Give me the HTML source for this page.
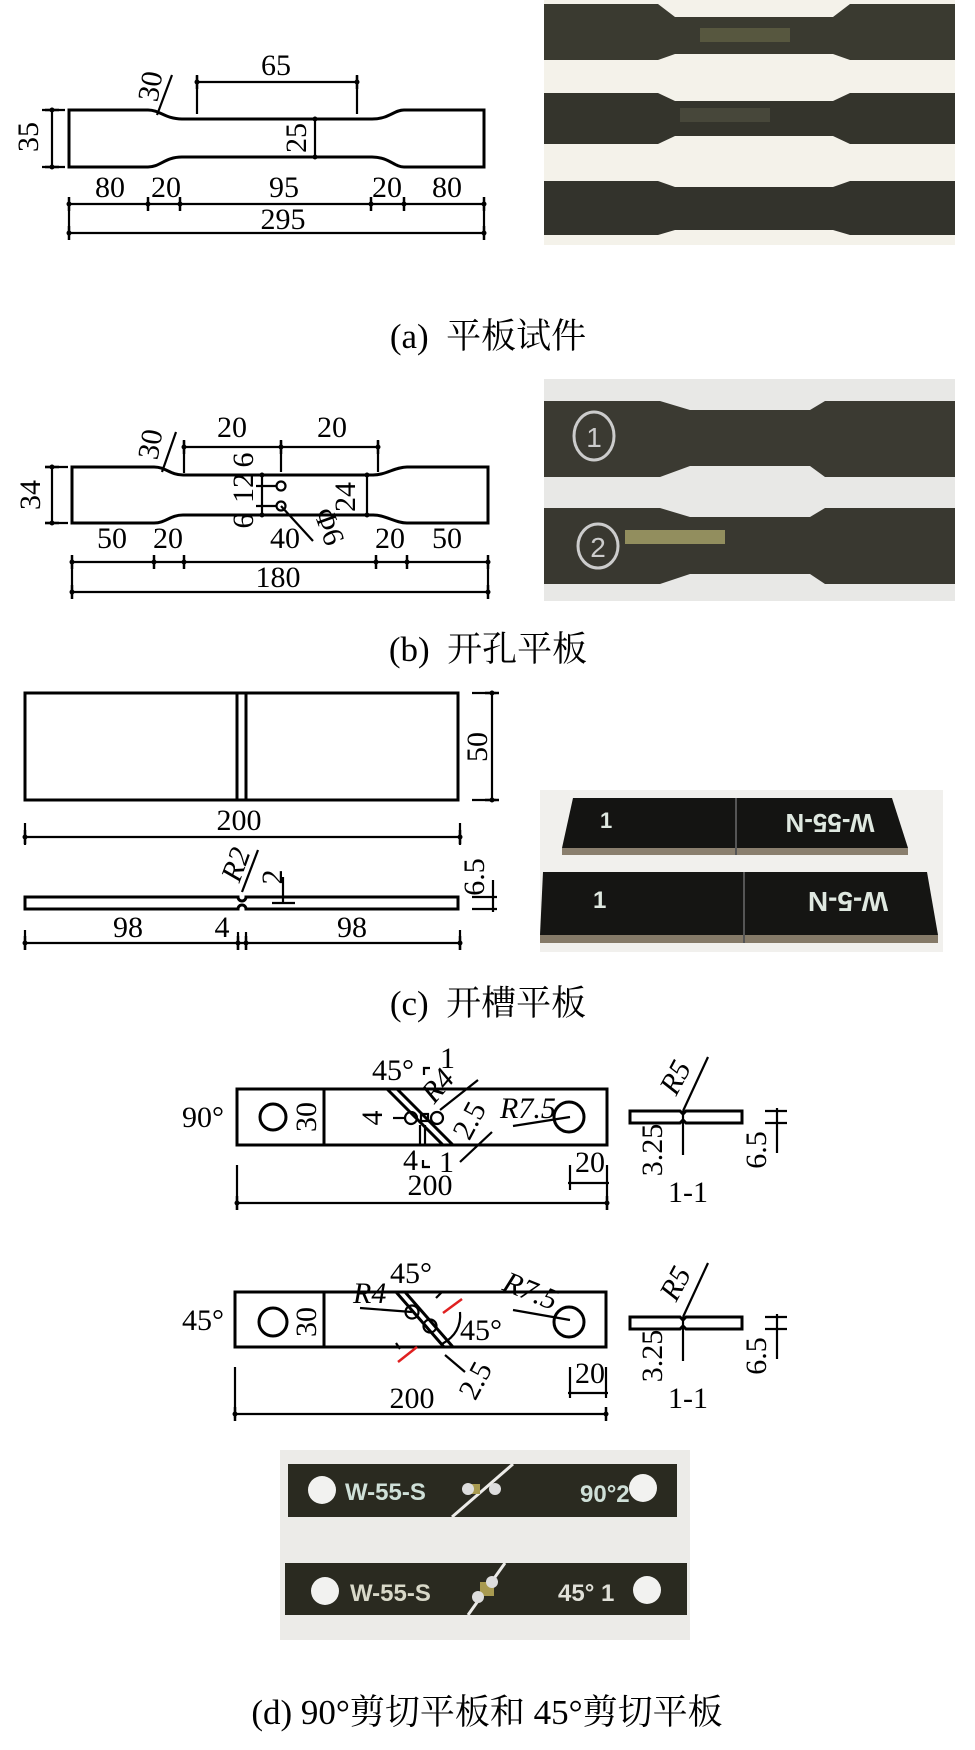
<!DOCTYPE html>
<html><head><meta charset="utf-8"><style>
html,body{margin:0;padding:0;background:#fff;}
svg{display:block;}
.t{font-family:"Liberation Serif",serif;font-size:30px;fill:#000;}
.i{font-style:italic;}
.c{font-family:"Liberation Serif","Noto Serif CJK SC","Noto Sans CJK SC",serif;font-size:35px;fill:#000;}
.o{fill:none;stroke:#000;stroke-width:3;}
.d{fill:none;stroke:#000;stroke-width:2.2;}
.w{font-family:"Liberation Sans",sans-serif;font-weight:bold;fill:#dfe8e0;}
</style></head><body>
<svg width="975" height="1750" viewBox="0 0 975 1750" xmlns="http://www.w3.org/2000/svg">
<defs>
<g id="tk"><line x1="0" y1="-7" x2="0" y2="7" stroke="#000" stroke-width="2.5"/><circle r="2.5" fill="#000"/></g>
<g id="th"><line x1="-7" y1="0" x2="7" y2="0" stroke="#000" stroke-width="2.5"/><circle r="2.5" fill="#000"/></g>
</defs>

<!-- ===== (a) drawing ===== -->
<path class="o" d="M69,110 H148 C160,110 165,119 182,119 H372 C389,119 394,110 404,110 H484 V167 H404 C394,167 389,157 372,157 H182 C165,157 160,167 148,167 H69 Z"/>
<line class="d" x1="52" y1="110" x2="52" y2="167"/><line class="d" x1="42" y1="110" x2="65" y2="110"/><line class="d" x1="42" y1="167" x2="65" y2="167"/>
<use href="#th" x="52" y="110"/><use href="#th" x="52" y="167"/>
<text class="t" transform="translate(38,137) rotate(-90)" text-anchor="middle">35</text>
<line class="d" x1="197" y1="82" x2="357" y2="82"/><line class="d" x1="197" y1="76" x2="197" y2="114"/><line class="d" x1="357" y1="76" x2="357" y2="114"/>
<use href="#tk" x="197" y="82"/><use href="#tk" x="357" y="82"/>
<text class="t" x="276" y="75" text-anchor="middle">65</text>
<line class="d" x1="172" y1="75" x2="157" y2="115"/>
<text class="t" transform="translate(160,88) rotate(-80)" text-anchor="middle">30</text>
<line class="d" x1="315" y1="119" x2="315" y2="157"/><use href="#th" x="315" y="119"/><use href="#th" x="315" y="157"/>
<text class="t" transform="translate(306,138) rotate(-90)" text-anchor="middle">25</text>
<text class="t" x="110" y="197" text-anchor="middle">80</text>
<text class="t" x="166" y="197" text-anchor="middle">20</text>
<text class="t" x="284" y="197" text-anchor="middle">95</text>
<text class="t" x="387" y="197" text-anchor="middle">20</text>
<text class="t" x="447" y="197" text-anchor="middle">80</text>
<line class="d" x1="69" y1="204" x2="484" y2="204"/>
<use href="#tk" x="69" y="204"/><use href="#tk" x="148" y="204"/><use href="#tk" x="180" y="204"/><use href="#tk" x="371" y="204"/><use href="#tk" x="404" y="204"/><use href="#tk" x="484" y="204"/>
<line class="d" x1="69" y1="204" x2="69" y2="236"/><line class="d" x1="484" y1="204" x2="484" y2="236"/>
<text class="t" x="283" y="229" text-anchor="middle">295</text>
<line class="d" x1="69" y1="233" x2="484" y2="233"/><use href="#tk" x="69" y="233"/><use href="#tk" x="484" y="233"/>

<!-- ===== (a) photo ===== -->
<rect x="544" y="0" width="411" height="245" fill="#f4f2ea"/>
<path fill="#3a3a30" d="M544,4 H658 L675,17 H833 L850,4 H955 V60 H850 L833,54 H675 L658,60 H544 Z"/>
<path fill="#34342c" d="M544,93 H658 L675,101 H833 L850,93 H955 V144 H850 L833,136 H675 L658,144 H544 Z"/>
<path fill="#33332c" d="M544,181 H658 L675,187 H833 L850,181 H955 V235 H850 L833,230 H675 L658,235 H544 Z"/>
<rect x="700" y="28" width="90" height="14" fill="#6b6a4a" opacity="0.6"/>
<rect x="680" y="108" width="90" height="14" fill="#555545" opacity="0.6"/>

<text class="c" x="488" y="348" text-anchor="middle">(a)&#160; 平板试件</text>

<!-- ===== (b) drawing ===== -->
<path class="o" d="M72,467 H154 C166,467 170,475 183,475 H373 C386,475 395,467 407,467 H488 V523 H407 C395,523 386,515 373,515 H183 C170,515 166,523 154,523 H72 Z"/>
<line class="d" x1="52" y1="467" x2="52" y2="523"/><line class="d" x1="45" y1="467" x2="68" y2="467"/><line class="d" x1="45" y1="523" x2="68" y2="523"/>
<use href="#th" x="52" y="467"/><use href="#th" x="52" y="523"/>
<text class="t" transform="translate(40,495) rotate(-90)" text-anchor="middle">34</text>
<line class="d" x1="184" y1="447" x2="378" y2="447"/>
<line class="d" x1="184" y1="441" x2="184" y2="473"/><line class="d" x1="281" y1="441" x2="281" y2="472"/><line class="d" x1="378" y1="441" x2="378" y2="472"/>
<use href="#tk" x="184" y="447"/><use href="#tk" x="281" y="447"/><use href="#tk" x="378" y="447"/>
<text class="t" x="232" y="437" text-anchor="middle">20</text>
<text class="t" x="332" y="437" text-anchor="middle">20</text>
<line class="d" x1="176" y1="432" x2="162" y2="472"/>
<text class="t" transform="translate(160,446) rotate(-80)" text-anchor="middle">30</text>
<line class="d" x1="262" y1="475" x2="262" y2="515"/>
<line class="d" x1="256" y1="486" x2="277" y2="486"/><line class="d" x1="256" y1="506" x2="277" y2="506"/>
<use href="#th" x="262" y="475"/><use href="#th" x="262" y="515"/>
<circle cx="281" cy="486" r="4.5" class="d" stroke-width="2.5"/><circle cx="281" cy="506" r="4.5" class="d" stroke-width="2.5"/>
<text class="t" transform="translate(253,460) rotate(-90)" text-anchor="middle">6</text>
<text class="t" transform="translate(253,488) rotate(-90)" text-anchor="middle">12</text>
<text class="t" transform="translate(253,521) rotate(-90)" text-anchor="middle">6</text>
<line class="d" x1="367" y1="475" x2="367" y2="515"/><use href="#th" x="367" y="475"/><use href="#th" x="367" y="515"/>
<text class="t" transform="translate(355,497) rotate(-90)" text-anchor="middle">24</text>
<line class="d" x1="281" y1="506" x2="313" y2="541"/>
<text class="t" transform="translate(320,530) rotate(70)" text-anchor="middle">Φ6</text>
<text class="t" x="285" y="548" text-anchor="middle">40</text>
<text class="t" x="112" y="548" text-anchor="middle">50</text>
<text class="t" x="168" y="548" text-anchor="middle">20</text>
<text class="t" x="390" y="548" text-anchor="middle">20</text>
<text class="t" x="447" y="548" text-anchor="middle">50</text>
<line class="d" x1="72" y1="562" x2="488" y2="562"/>
<use href="#tk" x="72" y="562"/><use href="#tk" x="154" y="562"/><use href="#tk" x="184" y="562"/><use href="#tk" x="376" y="562"/><use href="#tk" x="407" y="562"/><use href="#tk" x="488" y="562"/>
<line class="d" x1="72" y1="562" x2="72" y2="595"/><line class="d" x1="488" y1="562" x2="488" y2="595"/>
<text class="t" x="278" y="587" text-anchor="middle">180</text>
<line class="d" x1="72" y1="592" x2="488" y2="592"/><use href="#tk" x="72" y="592"/><use href="#tk" x="488" y="592"/>

<!-- ===== (b) photo ===== -->
<rect x="544" y="379" width="411" height="222" fill="#e8e8e6"/>
<path fill="#3b3a32" d="M544,401 H660 L690,410 H810 L825,401 H955 V477 H825 L810,466 H690 L660,477 H544 Z"/>
<path fill="#393830" d="M544,508 H660 L690,517 H810 L825,508 H955 V584 H825 L810,574 H690 L660,584 H544 Z"/>
<ellipse cx="594" cy="436" rx="20" ry="24" fill="none" stroke="#ccc" stroke-width="3"/>
<text x="594" y="447" text-anchor="middle" style="font-family:'Liberation Sans';font-size:28px;fill:#ccc">1</text>
<ellipse cx="598" cy="546" rx="20" ry="22" fill="none" stroke="#ccc" stroke-width="3"/>
<text x="598" y="557" text-anchor="middle" style="font-family:'Liberation Sans';font-size:28px;fill:#ccc">2</text>
<rect x="625" y="530" width="100" height="14" fill="#a9a46a" opacity="0.8"/>

<text class="c" x="488" y="661" text-anchor="middle">(b)&#160; 开孔平板</text>

<!-- ===== (c) drawing ===== -->
<rect class="o" x="25" y="693" width="433" height="107"/>
<line class="o" x1="237" y1="693" x2="237" y2="800"/><line class="o" x1="246" y1="693" x2="246" y2="800"/>
<line class="d" x1="492" y1="693" x2="492" y2="800"/>
<line class="d" x1="472" y1="693" x2="496" y2="693"/><line class="d" x1="472" y1="800" x2="496" y2="800"/>
<use href="#th" x="492" y="693"/><use href="#th" x="492" y="800"/>
<text class="t" transform="translate(487,747) rotate(-90)" text-anchor="middle">50</text>
<line class="d" x1="25" y1="837" x2="460" y2="837"/><line class="d" x1="25" y1="823" x2="25" y2="845"/><line class="d" x1="460" y1="823" x2="460" y2="845"/>
<use href="#tk" x="25" y="837"/><use href="#tk" x="460" y="837"/>
<text class="t" x="239" y="830" text-anchor="middle">200</text>
<path class="o" d="M25,897 H238 A4,4 0 0 0 246,897 H458 V909 H246 A4,4 0 0 0 238,909 H25 Z"/>
<line class="d" x1="258" y1="850" x2="242" y2="892"/>
<text class="t i" transform="translate(245,868) rotate(-70)" text-anchor="middle">R2</text>
<text class="t" transform="translate(282,877) rotate(-90)" text-anchor="middle">2</text>
<line class="d" x1="283" y1="877" x2="283" y2="903"/>
<line class="d" x1="272" y1="897" x2="295" y2="897"/><line class="d" x1="272" y1="903" x2="295" y2="903"/>
<line class="d" x1="493" y1="880" x2="493" y2="912"/>
<line class="d" x1="472" y1="897" x2="497" y2="897"/><line class="d" x1="472" y1="909" x2="497" y2="909"/>
<text class="t" transform="translate(484,877) rotate(-90)" text-anchor="middle">6.5</text>
<text class="t" x="128" y="937" text-anchor="middle">98</text>
<text class="t" x="222" y="937" text-anchor="middle">4</text>
<text class="t" x="352" y="937" text-anchor="middle">98</text>
<line class="d" x1="25" y1="943" x2="460" y2="943"/>
<line class="d" x1="25" y1="930" x2="25" y2="950"/><line class="d" x1="460" y1="930" x2="460" y2="950"/><line class="d" x1="238" y1="932" x2="238" y2="950"/><line class="d" x1="246" y1="932" x2="246" y2="950"/>
<use href="#tk" x="25" y="943"/><use href="#tk" x="238" y="943"/><use href="#tk" x="246" y="943"/><use href="#tk" x="460" y="943"/>

<!-- ===== (c) photo ===== -->
<rect x="540" y="790" width="403" height="162" fill="#f1f0ed"/>
<path fill="#141412" d="M573,798 H892 L908,848 H562 Z"/>
<rect x="562" y="848" width="346" height="7" fill="#8a7f6e"/>
<line x1="736" y1="798" x2="736" y2="855" stroke="#555" stroke-width="2"/>
<path fill="#151513" d="M543,872 H927 L938,935 H540 Z"/>
<rect x="540" y="935" width="398" height="8" fill="#857a68"/>
<line x1="744" y1="872" x2="744" y2="943" stroke="#555" stroke-width="2"/>
<text class="w" x="600" y="828" style="font-size:22px">1</text>
<text class="w" x="830" y="832" text-anchor="middle" style="font-size:26px" transform="rotate(180 830 823)">W-55-N</text>
<text class="w" x="593" y="908" style="font-size:24px">1</text>
<text class="w" x="848" y="912" text-anchor="middle" style="font-size:28px" transform="rotate(180 848 902)">W-5-N</text>

<text class="c" x="488" y="1015" text-anchor="middle">(c)&#160; 开槽平板</text>

<!-- ===== (d) 90° ===== -->
<rect class="o" x="237" y="1089" width="370" height="56"/>
<line class="o" x1="324" y1="1089" x2="324" y2="1145"/>
<circle cx="273" cy="1117" r="13" class="o"/>
<circle cx="569" cy="1117" r="15" class="o"/>
<text class="t" transform="translate(316,1117) rotate(-90)" text-anchor="middle">30</text>
<text class="t" x="182" y="1127">90°</text>
<line class="o" x1="387" y1="1089" x2="443" y2="1145"/>
<line class="o" x1="397" y1="1089" x2="453" y2="1145"/>
<circle cx="411" cy="1118" r="6" class="d" fill="#fff"/>
<circle cx="437" cy="1118" r="6" class="d" fill="#fff"/>
<rect x="421" y="1114" width="7" height="7" class="d"/>
<line class="d" x1="393" y1="1118" x2="405" y2="1118"/>
<line class="d" x1="420" y1="1125" x2="420" y2="1145"/><line class="d" x1="425" y1="1125" x2="425" y2="1145"/>
<line class="d" x1="478" y1="1080" x2="440" y2="1110"/>
<text class="t i" transform="translate(445,1092) rotate(-50)" text-anchor="middle">R4</text>
<text class="t" x="372" y="1080">45°</text>
<path class="d" d="M424,1075 V1068 H430"/>
<text class="t" x="440" y="1068">1</text>
<text class="t" transform="translate(382,1118) rotate(-90)" text-anchor="middle">4</text>
<text class="t" x="403" y="1170">4</text>
<path class="d" d="M423,1160 V1167 H430"/>
<text class="t" x="439" y="1172">1</text>
<line class="d" x1="492" y1="1132" x2="460" y2="1162"/>
<text class="t" transform="translate(478,1125) rotate(-62)" text-anchor="middle">2.5</text>
<text class="t i" x="500" y="1118">R7.5</text>
<line class="d" x1="513" y1="1126" x2="570" y2="1117"/>
<line class="d" x1="570" y1="1165" x2="570" y2="1190"/><line class="d" x1="607" y1="1165" x2="607" y2="1190"/>
<line class="d" x1="568" y1="1183" x2="609" y2="1183"/>
<text class="t" x="590" y="1172" text-anchor="middle">20</text>
<line class="d" x1="237" y1="1165" x2="237" y2="1210"/><line class="d" x1="607" y1="1190" x2="607" y2="1210"/>
<line class="d" x1="237" y1="1203" x2="607" y2="1203"/><use href="#tk" x="237" y="1203"/><use href="#tk" x="607" y="1203"/>
<text class="t" x="430" y="1195" text-anchor="middle">200</text>

<!-- ===== (d) 45° ===== -->
<rect class="o" x="235" y="1292" width="371" height="55"/>
<line class="o" x1="324" y1="1292" x2="324" y2="1347"/>
<circle cx="273" cy="1322" r="14" class="o"/>
<circle cx="569" cy="1322" r="15" class="o"/>
<text class="t" transform="translate(316,1322) rotate(-90)" text-anchor="middle">30</text>
<text class="t" x="182" y="1330">45°</text>
<line class="o" x1="396" y1="1292" x2="444" y2="1347"/>
<line class="o" x1="405" y1="1292" x2="453" y2="1347"/>
<circle cx="412" cy="1312" r="6.5" class="d" fill="#fff"/>
<circle cx="430" cy="1326" r="6.5" class="d" fill="#fff"/>
<text class="t" x="390" y="1283">45°</text>
<text class="t i" x="353" y="1303">R4</text>
<line class="d" x1="360" y1="1308" x2="412" y2="1312"/>
<path class="d" d="M460,1312 Q462,1333 442,1344"/>
<text class="t" x="460" y="1340">45°</text>
<line x1="443" y1="1313" x2="462" y2="1299" stroke="#e02020" stroke-width="2.5"/>
<line x1="398" y1="1362" x2="417" y2="1347" stroke="#e02020" stroke-width="2.5"/>
<path class="d" d="M436,1298 L442,1292 M400,1349 L396,1343"/>
<line class="d" x1="445" y1="1355" x2="465" y2="1372"/>
<text class="t" transform="translate(484,1385) rotate(-62)" text-anchor="middle">2.5</text>
<text class="t i" transform="translate(527,1300) rotate(22)" text-anchor="middle">R7.5</text>
<line class="d" x1="513" y1="1310" x2="570" y2="1320"/>
<line class="d" x1="570" y1="1367" x2="570" y2="1398"/><line class="d" x1="606" y1="1367" x2="606" y2="1398"/>
<line class="d" x1="568" y1="1393" x2="608" y2="1393"/>
<text class="t" x="590" y="1383" text-anchor="middle">20</text>
<line class="d" x1="235" y1="1367" x2="235" y2="1418"/>
<line class="d" x1="235" y1="1414" x2="606" y2="1414"/><use href="#tk" x="235" y="1414"/><use href="#tk" x="606" y="1414"/>
<text class="t" x="412" y="1408" text-anchor="middle">200</text>

<!-- ===== section 1-1 (x2) ===== -->
<g>
<path class="o" d="M630,1111 H680 L683,1114 L686,1111 H742 V1123 H686 L683,1120 L680,1123 H630 Z"/>
<line class="d" x1="683" y1="1111" x2="683" y2="1155"/>
<line class="d" x1="708" y1="1057" x2="683" y2="1111"/>
<text class="t i" transform="translate(684,1082) rotate(-62)" text-anchor="middle">R5</text>
<text class="t" transform="translate(662,1150) rotate(-90)" text-anchor="middle">3.25</text>
<text class="t" transform="translate(766,1150) rotate(-90)" text-anchor="middle">6.5</text>
<line class="d" x1="777" y1="1108" x2="777" y2="1153"/><line class="d" x1="765" y1="1111" x2="787" y2="1111"/><line class="d" x1="765" y1="1123" x2="787" y2="1123"/>
<text class="t" x="688" y="1202" text-anchor="middle">1-1</text>
</g>
<g transform="translate(0,206)">
<path class="o" d="M630,1111 H680 L683,1114 L686,1111 H742 V1123 H686 L683,1120 L680,1123 H630 Z"/>
<line class="d" x1="683" y1="1111" x2="683" y2="1155"/>
<line class="d" x1="708" y1="1057" x2="683" y2="1111"/>
<text class="t i" transform="translate(684,1082) rotate(-62)" text-anchor="middle">R5</text>
<text class="t" transform="translate(662,1150) rotate(-90)" text-anchor="middle">3.25</text>
<text class="t" transform="translate(766,1150) rotate(-90)" text-anchor="middle">6.5</text>
<line class="d" x1="777" y1="1108" x2="777" y2="1153"/><line class="d" x1="765" y1="1111" x2="787" y2="1111"/><line class="d" x1="765" y1="1123" x2="787" y2="1123"/>
<text class="t" x="688" y="1202" text-anchor="middle">1-1</text>
</g>

<!-- ===== (d) photo ===== -->
<rect x="280" y="1450" width="410" height="190" fill="#ecebe8"/>
<rect x="288" y="1464" width="389" height="53" fill="#2a2a20"/>
<line x1="513" y1="1464" x2="452" y2="1517" stroke="#ecebe8" stroke-width="3"/>
<circle cx="322" cy="1490" r="14" fill="#f2f2f0"/><circle cx="643" cy="1488" r="14" fill="#f2f2f0"/>
<rect x="465" y="1484" width="15" height="10" fill="#a89a50"/>
<circle cx="468" cy="1489" r="6" fill="#ddd"/><circle cx="495" cy="1489" r="6" fill="#ddd"/>
<text class="w" x="345" y="1500" style="font-size:24px;fill:#cfe0d8">W-55-S</text>
<text class="w" x="580" y="1502" style="font-size:24px;fill:#cfe0d8">90°2</text>
<rect x="285" y="1563" width="402" height="52" fill="#2a2a20"/>
<line x1="505" y1="1563" x2="468" y2="1615" stroke="#ecebe8" stroke-width="3"/>
<circle cx="325" cy="1591" r="14" fill="#f2f2f0"/><circle cx="647" cy="1590" r="14" fill="#f2f2f0"/>
<rect x="480" y="1582" width="14" height="14" fill="#a89a50"/>
<circle cx="478" cy="1597" r="6" fill="#ddd"/><circle cx="492" cy="1582" r="6" fill="#ddd"/>
<text class="w" x="350" y="1601" style="font-size:24px;fill:#d8d8c8">W-55-S</text>
<text class="w" x="558" y="1601" style="font-size:24px;fill:#e0e0d8">45° 1</text>

<text class="c" x="487" y="1724" text-anchor="middle">(d) 90°剪切平板和 45°剪切平板</text>
</svg>
</body></html>
